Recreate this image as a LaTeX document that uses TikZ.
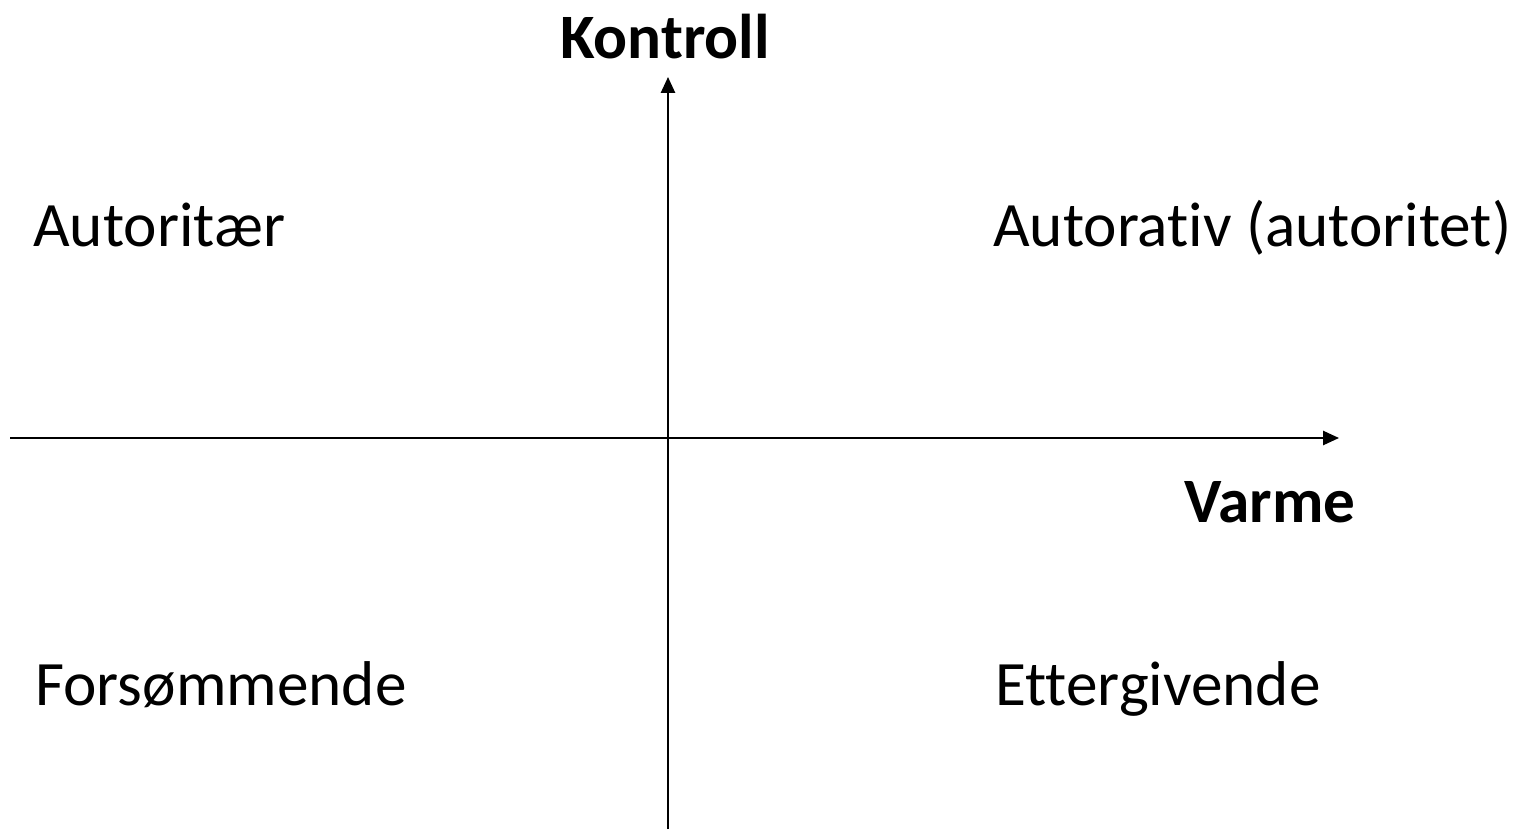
\documentclass[tikz,border=0pt]{standalone}
\usepackage{fontspec}
\setmainfont{Carlito}[Ligatures=NoCommon]
\usetikzlibrary{arrows.meta,positioning}

\begin{document}
\begin{tikzpicture}[x=0.02cm, y=-0.02cm,
    label/.style={inner sep=0pt, anchor=base west, font=\fontsize{36}{43}\selectfont},
    axislabel/.style={inner sep=0pt, anchor=base, font=\fontsize{36}{43}\selectfont\bfseries},
    axis/.style={-{Triangle[length=9pt, width=8pt]}, line width=1.1pt}]
    \useasboundingbox (0,0) rectangle (1519,829);
    \coordinate (origin) at (668,438);
    \coordinate (vbot) at (668,829);
    \coordinate (vtop) at (668,77);
    \coordinate (hleft) at (10,438);
    \coordinate (hright) at (1339,438);

    \draw[axis] (vbot) -- (vtop);
    \draw[axis] (hleft) -- (hright);

    \node[axislabel] (kontroll) at (665,58) {Kontroll};
    \node[axislabel] (varme) at (1270,522) {Varme};

    \node[label] (autoritaer) at (33,246) {Autoritær};
    \node[label] (autorativ) at (993,246) {Autorativ (autoritet)};
    \node[label] (forsommende) at (35,705) {Forsømmende};
    \node[label] (ettergivende) at (995,705) {Ettergivende};
\end{tikzpicture}
\end{document}
